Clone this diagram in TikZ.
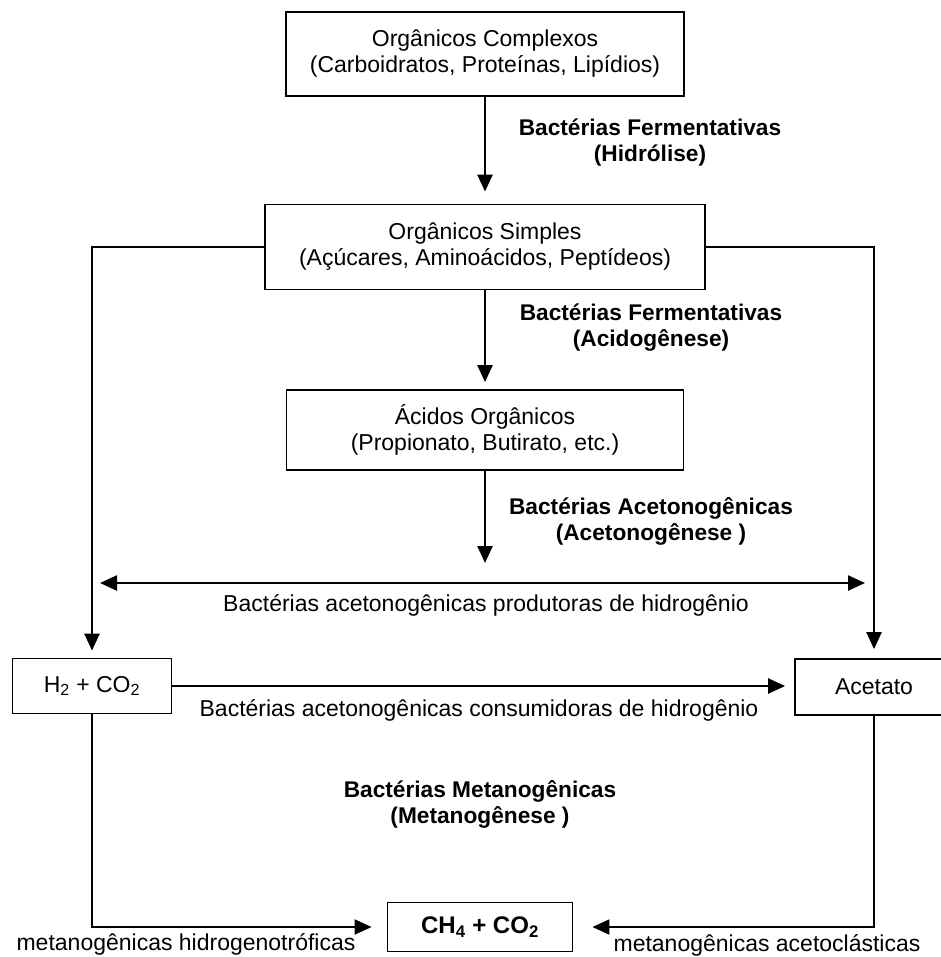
\documentclass[tikz,border=0pt]{standalone}
\usepackage{fontspec}
\setmainfont{Liberation Sans}
\usetikzlibrary{arrows.meta}

\begin{document}
\begin{tikzpicture}[x=1pt, y=-1pt,
    box style/.style={draw=black, line width=1.8pt, inner sep=0pt, align=center,
        font=\fontsize{23}{26}\selectfont},
    label style/.style={inner sep=0pt, align=center, font=\fontsize{23}{26}\selectfont},
    bold label style/.style={label style, font=\fontsize{22.7}{26}\selectfont\bfseries},
    flow style/.style={draw=black, line width=2.4pt, -{Triangle[length=17pt,width=15pt]}},
    link style/.style={draw=black, line width=2pt, -{Triangle[length=17pt,width=15pt]}},]
    \useasboundingbox (0,0) rectangle (940,957);
    %\draw (0,0) rectangle (940,957);

    \node[box style, minimum width=398pt, minimum height=84pt] (complexos) at (485,54)
        {Orgânicos Complexos\\(Carboidratos, Proteínas, Lipídios)};
    \node[box style, minimum width=440pt, minimum height=85pt] (simples) at (485,247)
        {Orgânicos Simples\\(Açúcares, Aminoácidos, Peptídeos)};
    \node[box style, minimum width=397pt, minimum height=80pt] (acidos) at (485,430)
        {Ácidos Orgânicos\\(Propionato, Butirato, etc.)};
    \node[box style, minimum width=159pt, minimum height=55pt] (h2) at (92,686)
        {H\textsubscript{2} + CO\textsubscript{2}};
    \node[box style, minimum width=158pt, minimum height=56pt] (acetato) at (874,687)
        {Acetato};
    \node[box style, minimum width=185pt, minimum height=49pt,
        font=\fontsize{24}{28}\selectfont\bfseries] (ch4) at (480,927)
        {CH\textsubscript{4} + CO\textsubscript{2}};

    \coordinate (meio) at (485,563);
    \coordinate (prodE) at (100,583);
    \coordinate (prodD) at (865,583);

    \node[bold label style] (hidrolise) at (650,143) {Bactérias Fermentativas\\(Hidrólise)};
    \node[bold label style] (acidogenese) at (651,328) {Bactérias Fermentativas\\(Acidogênese)};
    \node[bold label style] (acetonogenese) at (651,521) {Bactérias Acetonogênicas\\(Acetonogênese )};
    \node[label style] (produtoras) at (486,605) {Bactérias acetonogênicas produtoras de hidrogênio};
    \node[label style] (consumidoras) at (479,710) {Bactérias acetonogênicas consumidoras de hidrogênio};
    \node[bold label style] (metanogenese) at (480,804) {Bactérias Metanogênicas\\(Metanogênese )};
    \node[label style] (hidrogenotroficas) at (186,944) {metanogênicas hidrogenotróficas};
    \node[label style] (acetoclasticas) at (767,945) {metanogênicas acetoclásticas};

    \draw[style=flow style, shorten >=12pt] (complexos) -- (simples);
    \draw[style=flow style, shorten >=7pt] (simples) -- (acidos);
    \draw[style=flow style] (acidos) -- (meio);
    \draw[style=flow style, {Triangle[length=17pt,width=15pt]}-{Triangle[length=17pt,width=15pt]}] (prodE) -- (prodD);
    \draw[style=flow style, shorten >=7pt] (simples.west) -| (h2.north);
    \draw[style=flow style, shorten >=9pt] (simples.east) -| (acetato.north);
    \draw[style=flow style, shorten >=9pt] (h2) -- (h2 -| acetato.west);
    \draw[style=link style, shorten >=15pt] (h2.south) |- (ch4.west);
    \draw[style=link style, shorten >=19pt] (acetato.south) |- (ch4.east);

\end{tikzpicture}
\end{document}
